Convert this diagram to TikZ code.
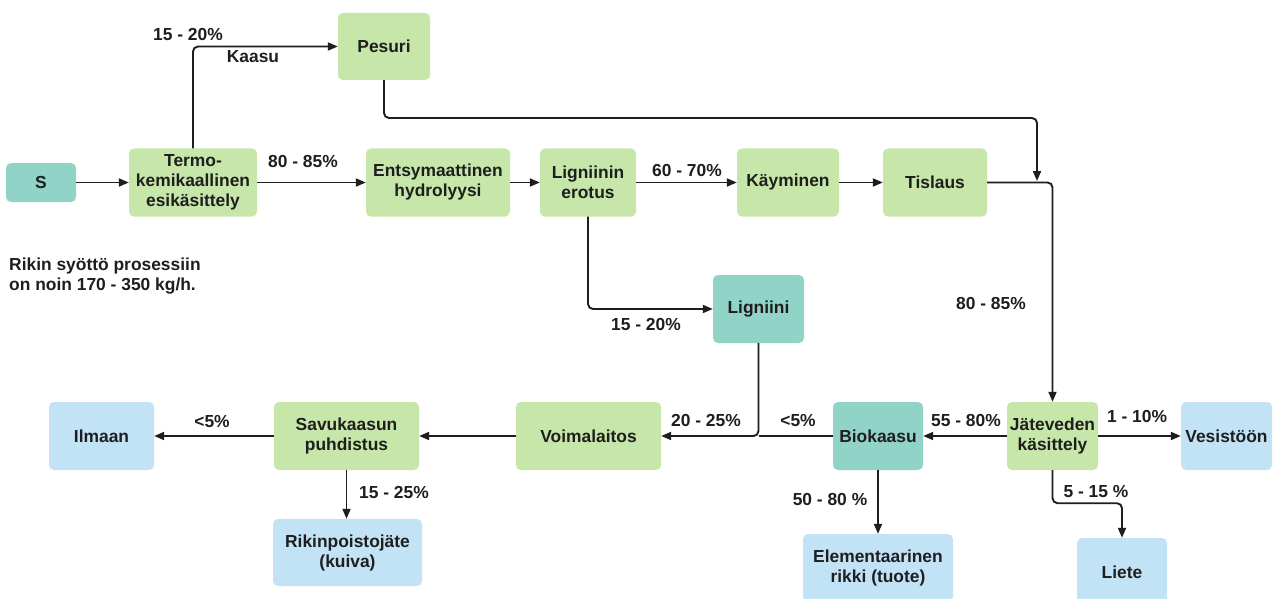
\documentclass[tikz,border=0pt]{standalone}
\usepackage{fontspec}
\setmainfont{Liberation Sans}
\usetikzlibrary{arrows.meta}
\definecolor{boxgreen}{HTML}{C6E7A9}
\definecolor{boxteal}{HTML}{92D3C7}
\definecolor{boxblue}{HTML}{C2E3F6}
\definecolor{ink}{HTML}{1E1E1E}
\begin{document}
\begin{tikzpicture}[x=1pt,y=-1pt,
  txt/.style={font=\bfseries\fontsize{17.4}{20}\selectfont, text=ink},
  box/.style={txt, rounded corners=5pt, align=center, inner sep=0pt, minimum height=68pt},
  gbox/.style={box, fill=boxgreen},
  tbox/.style={box, fill=boxteal},
  bbox/.style={box, fill=boxblue},
  flow/.style={draw=ink, line width=1.9pt, rounded corners=5pt, -{Triangle[length=10pt,width=8pt]}},
  plain/.style={draw=ink, line width=1.9pt},
  lab/.style={txt, inner sep=0pt}]
% page frame
\clip (0,0) rectangle (1274,599);
\fill[white] (0,0) rectangle (1274,599);

% top row
\node[tbox, minimum width=70pt, minimum height=39pt] (S) at (41,182.5) {S};
\node[gbox, minimum width=128pt] (T) at (193,182.5) {Termo-\\kemikaallinen\\esikäsittely};
\node[gbox, minimum width=92pt, minimum height=67pt] (P) at (384,46.5) {Pesuri};
\node[gbox, minimum width=144pt] (En) at (438,182.5) {Entsymaattinen\\hydrolyysi};
\node[gbox, minimum width=96pt] (L) at (588,182.5) {Ligniinin\\erotus};
\node[gbox, minimum width=102pt] (K) at (788,182.5) {Käyminen};
\node[gbox, minimum width=104pt] (Ti) at (935,182.5) {Tislaus};

% middle
\node[tbox, minimum width=91pt] (Lg) at (758.5,309) {Ligniini};

% bottom row
\node[gbox, minimum width=91pt] (J) at (1052.5,436) {Jäteveden\\käsittely};
\node[bbox, minimum width=91pt] (Ve) at (1226.5,436) {Vesistöön};
\node[tbox, minimum width=90pt] (B) at (878,436) {Biokaasu};
\node[gbox, minimum width=145pt] (V) at (588.5,436) {Voimalaitos};
\node[gbox, minimum width=145pt] (Sa) at (346.5,436) {Savukaasun\\puhdistus};
\node[bbox, minimum width=105pt] (I) at (101.5,436) {Ilmaan};
\node[bbox, minimum width=149pt, minimum height=67pt] (R) at (347.5,552.5) {Rikinpoistojäte\\(kuiva)};
\node[bbox, minimum width=150pt] (E) at (878,568) {Elementaarinen\\rikki (tuote)};
\node[bbox, minimum width=90pt] (Li) at (1122,572) {Liete};

% helper points
\coordinate (py) at (1037,118);
\coordinate (pj) at (1037,181);

% connectors
\draw[flow] (S) -- (T);
\draw[flow] (T) -- (En);
\draw[flow] (T.north) |- (P.west);
\draw[flow] (P.south) |- (py) -- (pj);
\draw[flow] (En) -- (L);
\draw[flow] (L) -- (K);
\draw[flow] (K) -- (Ti);
\draw[flow] (Ti.east) -| (J.north);
\draw[flow] (L.south) |- (Lg.west);
\draw[flow] (Lg.south) |- (V.east);
\draw[plain] (B.west) -- (Lg.south |- B.west);
\draw[flow] (J) -- (B);
\draw[flow] (J) -- (Ve);
\draw[flow] (J.south) -- ++(0,33) -| (Li.north);
\draw[flow] (B.south) -- (B.south |- E.north);
\draw[flow] (V) -- (Sa);
\draw[flow] (Sa) -- (I);
\draw[flow] (Sa.south) -- (Sa.south |- R.north);

% labels
\node[lab] (l1) at (188,35) {15 - 20\%};
\node[lab] (l2) at (253,57) {Kaasu};
\node[lab] (l3) at (303,162) {80 - 85\%};
\node[lab] (l4) at (687,171) {60 - 70\%};
\node[lab] (l5) at (991,304) {80 - 85\%};
\node[lab] (l6) at (646,325) {15 - 20\%};
\node[lab] (l7) at (706,421) {20 - 25\%};
\node[lab] (l8) at (798,421) {<5\%};
\node[lab] (l9) at (966,421) {55 - 80\%};
\node[lab] (l10) at (1137,417) {1 - 10\%};
\node[lab] (l11) at (1096,492) {5 - 15 \%};
\node[lab] (l12) at (830,500) {50 - 80 \%};
\node[lab] (l13) at (212,422) {<5\%};
\node[lab] (l14) at (394,493) {15 - 25\%};
\node[lab, align=left, anchor=west] (note) at (9,276) {Rikin syöttö prosessiin\\on noin 170 - 350 kg/h.};
\end{tikzpicture}
\end{document}
